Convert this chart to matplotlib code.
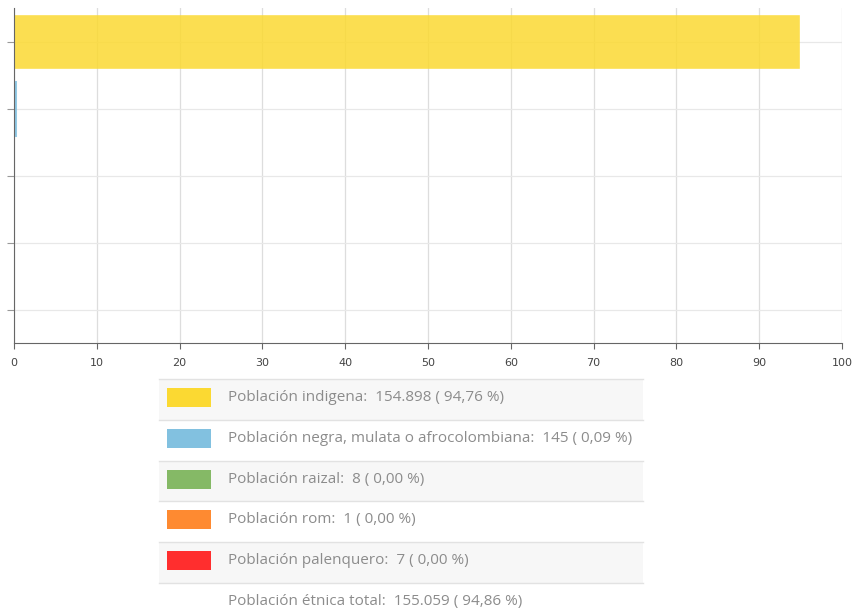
import matplotlib.pyplot as plt
from matplotlib.patches import Rectangle

# data
categorias = ["Población indigena", "Población negra, mulata o afrocolombiana",
              "Población raizal", "Población rom", "Población palenquero"]
porcentajes = [94.76, 0.09, 0.00, 0.00, 0.00]
conteos = ["154.898", "145", "8", "1", "7"]
etiquetas_pct = ["94,76", "0,09", "0,00", "0,00", "0,00"]
colores = ["#FBD932", "#82C1E0", "#85B966", "#FE8A31", "#FF2E2E"]
total_texto = "Población étnica total:  155.059 ( 94,86 %)"
x_ticks = [0, 10, 20, 30, 40, 50, 60, 70, 80, 90, 100]

W, H = 857, 612
fig = plt.figure(figsize=(W / 100, H / 100), dpi=100)

ax = fig.add_axes([14 / W, 1 - 343 / H, 828 / W, 335 / H])
y = list(range(len(categorias)))
# thin bars get a border in their own colour so they stay visible
bordes = [0.4 if v > 1 else (2.2 if v > 0 else 0) for v in porcentajes]
ax.barh(y, porcentajes, height=0.8, color=colores, alpha=0.85,
        edgecolor=colores, linewidth=bordes, zorder=2)
ax.set_ylim(len(categorias) - 0.5, -0.5)
ax.set_xlim(0, 100)
ax.set_xticks(x_ticks)
ax.set_yticks(y)
ax.set_yticklabels([])
ax.grid(axis="x", color="#dddddd", linewidth=0.9, zorder=0)
ax.grid(axis="y", color="#e8e8e8", linewidth=0.9, zorder=0)
for s in ["top", "right"]:
    ax.spines[s].set_visible(False)
for s in ["left", "bottom"]:
    ax.spines[s].set_color("#666666")
    ax.spines[s].set_linewidth(0.8)
ax.tick_params(axis="x", length=4, color="#666666", labelsize=8,
               labelcolor="#444444", pad=7)
ax.tick_params(axis="y", length=5, color="#999999")

# legend table drawn in pixel coordinates
lg = fig.add_axes([0, 0, 1, 1])
lg.set_xlim(0, W)
lg.set_ylim(H, 0)
lg.axis("off")

x0, x1 = 159, 643
top, row_h = 379, 40.8
for i, cat in enumerate(categorias):
    y0 = top + i * row_h
    bg = "#f7f7f7" if i % 2 == 0 else "#ffffff"
    lg.add_patch(Rectangle((x0, y0), x1 - x0, row_h, facecolor=bg, edgecolor="none"))
    lg.plot([x0, x1], [y0, y0], color="#e2e2e2", linewidth=1)
    yc = y0 + 18.5
    lg.add_patch(Rectangle((167.5, yc - 9.5), 44, 19, facecolor=colores[i],
                           edgecolor="none"))
    lg.text(228, yc, f"{cat}:  {conteos[i]} ( {etiquetas_pct[i]} %)",
            va="center", ha="left", fontsize=11, color="#8c8c8c",
            family="Open Sans")
y_end = top + len(categorias) * row_h
lg.plot([x0, x1], [y_end, y_end], color="#e2e2e2", linewidth=1)
lg.text(228, y_end + 18, total_texto, va="center", ha="left", fontsize=11,
        color="#8c8c8c", family="Open Sans")

fig.savefig("out.png", dpi=100)
